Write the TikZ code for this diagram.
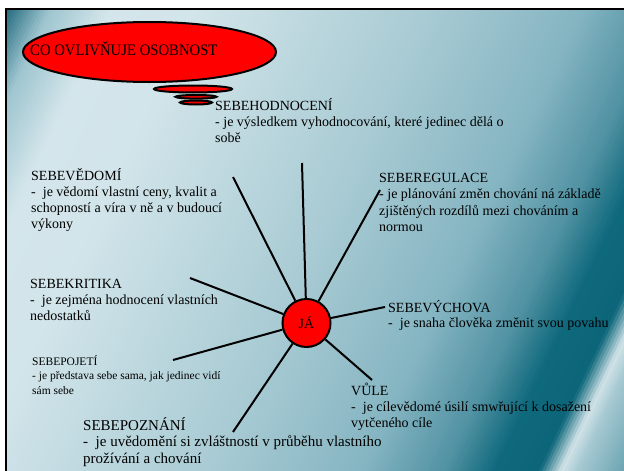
\documentclass[tikz,border=0pt]{standalone}
\usepackage{graphicx}
\usepackage{fontspec}
\setmainfont{Liberation Serif}
\usetikzlibrary{shapes.geometric}
\definecolor{s0}{HTML}{21697D}
\definecolor{s1}{HTML}{9EC5CF}
\definecolor{s2}{HTML}{D4E6EB}
\definecolor{s3}{HTML}{D2E5EA}
\definecolor{s4}{HTML}{A9CBD4}
\definecolor{s5}{HTML}{85B5C2}
\definecolor{s6}{HTML}{5192A3}
\definecolor{s7}{HTML}{0F697D}
\definecolor{s8}{HTML}{0C6579}
\definecolor{s9}{HTML}{D0E3E8}
\definecolor{s10}{HTML}{A6C9D2}
\definecolor{s11}{HTML}{3E8899}
\definecolor{cloudred}{HTML}{FF0000}
\begin{document}
\begin{tikzpicture}[x=1pt,y=-1pt,
  bubble/.style={ellipse, draw=black, fill=cloudred, line width=2pt, inner sep=0pt},
  spoke/.style={line width=2pt, black},
  lbl/.style={anchor=base west, inner sep=0pt, align=left, text=black, font=\fontsize{14}{16}\selectfont}]
\useasboundingbox (0,0) rectangle (624,471);
\fill[white] (0,0) rectangle (624,471);
% background gradient
\begin{scope}
\clip (6,9) rectangle (624,471);
\begin{scope}[shift={(6,9)}, rotate=-25.5]
\foreach \pa/\ca/\pb/\cb in {-20/s0/0/s0, 0/s0/40/s1, 40/s1/95/s2, 95/s2/170/s3, 170/s3/380/s4, 380/s4/520/s5, 520/s5/595/s6, 595/s6/640/s7, 640/s7/680/s8, 680/s8/700/s9, 700/s9/715/s10, 715/s10/790/s11}{
  \pgfmathtruncatemacro\n{max(1,round((\pb-\pa)/3))}
  \foreach \i in {1,...,\n}{
    \pgfmathtruncatemacro\t{round(100*(\i-0.5)/\n)}
    \pgfmathsetmacro\xa{\pa+(\i-1)*(\pb-\pa)/\n}
    \pgfmathsetmacro\xb{\pa+\i*(\pb-\pa)/\n+0.8}
    \fill[\cb!\t!\ca] (\xa,-320) -- (\xb,-320) -- (\xb,460) -- (\xa,460) -- cycle;
  }
}
\end{scope}
\end{scope}
\draw[line width=2.5pt] (6,490) -- (6,9) -- (640,9);

% thought cloud
\node[bubble, minimum width=78pt, minimum height=7pt] (b1) at (193,89) {};
\node[bubble, minimum width=41pt, minimum height=3.6pt] (b2) at (196,96.8) {};
\node[bubble, minimum width=32pt, minimum height=4pt] (b3) at (196,102.5) {};
\node[bubble, minimum width=253pt, minimum height=60pt] (cloud) at (149.5,52) {};
\node[anchor=base west, inner sep=0pt, font=\fontsize{16}{18}\selectfont] (title) at (30,55) {\scalebox{0.92}[1]{CO OVLIVŇUJE OSOBNOST}};

% centre
\node[circle, draw=black, fill=cloudred, line width=2pt, minimum size=48pt, inner sep=0pt, font=\fontsize{14}{16}\selectfont] (ja) at (306.5,323) {JÁ};

\coordinate (phod) at (302,163);
\coordinate (pved) at (233,177);
\coordinate (preg) at (380,190);
\coordinate (pkrit) at (190,278);
\coordinate (pvych) at (385,307);
\coordinate (ppoj) at (173,360);
\coordinate (ppozn) at (233,432);
\coordinate (pvule) at (372,380);
\foreach \p in {phod,pved,preg,pkrit,pvych,ppoj,ppozn,pvule}
  \draw[spoke] (ja) -- (\p);

% labels (anchored at the baseline of their last line)
\node[lbl] (hod) at (215,142) {SEBEHODNOCENÍ\\- je výsledkem vyhodnocování, které jedinec dělá o\\sobě};
\node[lbl] (ved) at (31,228) {SEBEVĚDOMÍ\\-~~je vědomí vlastní ceny, kvalit a\\schopností a víra v ně a v budoucí\\výkony};
\node[lbl] (krit) at (30,320) {SEBEKRITIKA\\-~~je zejména hodnocení vlastních\\nedostatků};
\node[lbl, font=\fontsize{11.5}{14.5}\selectfont] (poj) at (32,394) {SEBEPOJETÍ\\- je představa sebe sama, jak jedinec vidí\\sám sebe};
\node[lbl, font=\fontsize{15}{16.5}\selectfont] (pozn) at (83,463) {SEBEPOZNÁNÍ\\-~~je uvědomění si zvláštností v průběhu vlastního\\prožívání a chování};
\node[lbl, font=\fontsize{14}{16.5}\selectfont] (reg) at (379,231.5) {SEBEREGULACE\\- je plánování změn chování ná základě\\zjištěných rozdílů mezi chováním a\\normou};
\node[lbl, font=\fontsize{14}{15.5}\selectfont] (vych) at (388,327.5) {SEBEVÝCHOVA\\-~~je snaha člověka změnit svou povahu};
\node[lbl] (vule) at (351,427) {VŮLE\\-~~je cílevědomé úsilí smwřující k dosažení\\vytčeného cíle};
\end{tikzpicture}
\end{document}
